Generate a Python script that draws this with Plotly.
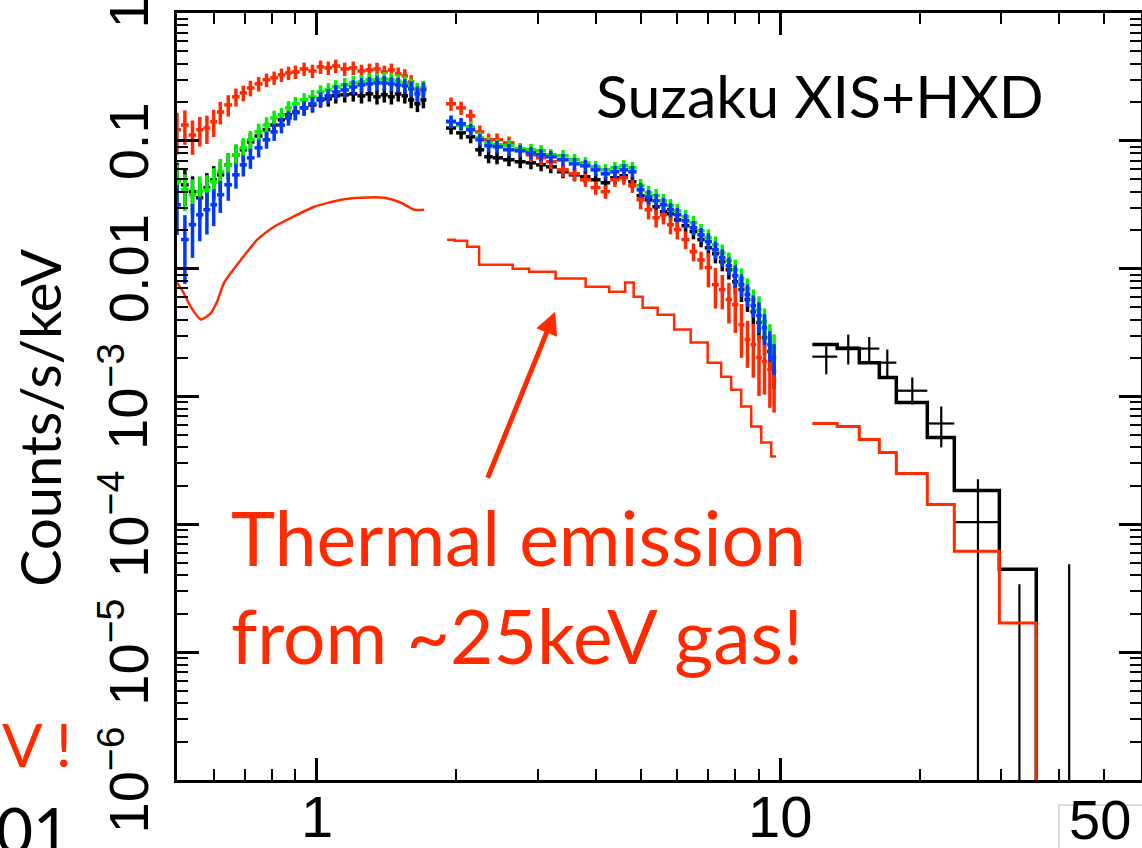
import numpy as np
import plotly.graph_objects as go

# ---------------- data (keV, counts/s/keV) ----------------
# XIS soft band
e_soft = [0.50, 0.52, 0.54, 0.56, 0.58, 0.60, 0.62, 0.645, 0.67, 0.695, 0.72, 0.75, 0.78, 0.81, 0.84, 0.87, 0.90,
          0.94, 0.98, 1.02, 1.06, 1.10, 1.15, 1.20, 1.25, 1.30, 1.35, 1.40, 1.45, 1.50, 1.55, 1.60, 1.65, 1.70]
black_soft = [0.0496, 0.0453, 0.0400, 0.0359, 0.0430, 0.0496, 0.0542, 0.0649, 0.0778, 0.0851, 0.0982, 0.109, 0.122,
              0.133, 0.146, 0.160, 0.168, 0.181, 0.191, 0.209, 0.213, 0.225, 0.229, 0.233, 0.225, 0.233, 0.221, 0.229,
              0.221, 0.233, 0.225, 0.209, 0.195, 0.209]
red_soft = [0.122, 0.133, 0.111, 0.122, 0.126, 0.141, 0.168, 0.191, 0.221, 0.237, 0.259, 0.279, 0.300, 0.311, 0.328,
            0.340, 0.346, 0.365, 0.352, 0.379, 0.372, 0.385, 0.365, 0.372, 0.352, 0.359, 0.365, 0.346, 0.359, 0.334,
            0.322, 0.289, 0.250, 0.259]
green_soft = [0.0478, 0.0414, 0.0379, 0.0400, 0.0414, 0.0478, 0.0573, 0.0649, 0.0778, 0.0882, 0.102, 0.1175, 0.133,
              0.151, 0.160, 0.181, 0.195, 0.209, 0.221, 0.241, 0.250, 0.264, 0.274, 0.284, 0.289, 0.300, 0.300, 0.305,
              0.300, 0.294, 0.284, 0.269, 0.250, 0.259]
blue_soft = [0.0316, 0.0169, 0.0221, 0.0264, 0.0289, 0.0316, 0.0379, 0.0453, 0.0542, 0.0649, 0.0736, 0.0882, 0.102,
             0.1175, 0.133, 0.151, 0.166, 0.181, 0.195, 0.213, 0.225, 0.241, 0.250, 0.264, 0.274, 0.279, 0.284, 0.284,
             0.279, 0.274, 0.269, 0.255, 0.233, 0.250]
# relative 1-sigma errors
red_soft_err = [0.36, 0.30, 0.30, 0.26, 0.25, 0.24, 0.20, 0.19, 0.16, 0.14, 0.14, 0.13, 0.12, 0.12, 0.12, 0.12, 0.12,
                0.12, 0.12, 0.12, 0.12, 0.12, 0.12, 0.12, 0.12, 0.12, 0.12, 0.12, 0.12, 0.12, 0.13, 0.13, 0.13, 0.13]
bg_soft_err = [0.36, 0.32, 0.32, 0.32, 0.30, 0.28, 0.26, 0.23, 0.20, 0.19, 0.17, 0.16, 0.15, 0.14, 0.13, 0.13, 0.13,
               0.13, 0.13, 0.13, 0.13, 0.13, 0.13, 0.13, 0.13, 0.13, 0.13, 0.13, 0.13, 0.13, 0.13, 0.14, 0.14, 0.14]
blue_soft_err = [0.42, 0.55, 0.45, 0.38, 0.36, 0.32, 0.28, 0.25, 0.22, 0.19, 0.18, 0.16, 0.15, 0.15, 0.14, 0.13, 0.13,
                 0.13, 0.13, 0.13, 0.13, 0.13, 0.13, 0.13, 0.13, 0.13, 0.13, 0.13, 0.13, 0.13, 0.13, 0.14, 0.14, 0.14]

# XIS hard band
e_hard = [1.95, 2.05, 2.15, 2.25, 2.35, 2.45, 2.6, 2.75, 2.9, 3.05, 3.2, 3.4, 3.6, 3.8, 4.0, 4.2, 4.4, 4.6, 4.8, 5.0,
          5.2, 5.4, 5.6, 5.8, 6.0, 6.25, 6.5, 6.75, 7.0, 7.25, 7.5, 7.75, 8.0, 8.25, 8.5, 8.75, 9.0, 9.25, 9.5, 9.7]
black_hard = [0.126, 0.1155, 0.1075, 0.0851, 0.075, 0.0736, 0.0711, 0.0686, 0.0673, 0.0649, 0.0626, 0.0573, 0.0542,
              0.0523, 0.0496, 0.047, 0.0514, 0.0533, 0.0478, 0.0372, 0.0346, 0.0305, 0.0279, 0.0269, 0.0241, 0.0217,
              0.0195, 0.0169, 0.0146, 0.0131, 0.01134, 0.0098, 0.0079, 0.00686, 0.00573, 0.00461, 0.00379, 0.00289,
              0.00225, 0.00157]
red_hard = [0.195, 0.181, 0.157, 0.1175, 0.102, 0.102, 0.0965, 0.0851, 0.0778, 0.0736, 0.0686, 0.0593, 0.0552, 0.0496,
            0.043, 0.040, 0.0496, 0.0514, 0.0445, 0.0346, 0.0289, 0.025, 0.0264, 0.0221, 0.0202, 0.0169, 0.0136,
            0.0117, 0.0102, 0.0075, 0.00686, 0.00573, 0.00523, 0.00365, 0.00279, 0.00255, 0.00202, 0.00188, 0.00163,
            0.00136]
green_hard = [0.143, 0.133, 0.1286, 0.1055, 0.0965, 0.0931, 0.0914, 0.0866, 0.0851, 0.0835, 0.0778, 0.0763, 0.0711,
              0.0673, 0.0626, 0.0593, 0.0615, 0.0638, 0.0615, 0.0445, 0.0392, 0.0372, 0.0340, 0.0311, 0.0284, 0.0255,
              0.0229, 0.0198, 0.0175, 0.0154, 0.0133, 0.01155, 0.0098, 0.00836, 0.00698, 0.00573, 0.00478, 0.00385,
              0.00289, 0.00241]
blue_hard = [0.141, 0.136, 0.122, 0.102, 0.0914, 0.0898, 0.0851, 0.0835, 0.0806, 0.0778, 0.0750, 0.0711, 0.0661,
             0.0638, 0.0593, 0.0552, 0.0573, 0.0593, 0.0573, 0.0414, 0.0365, 0.0340, 0.0316, 0.0289, 0.0264, 0.0237,
             0.0209, 0.0184, 0.0163, 0.0141, 0.0122, 0.01055, 0.00882, 0.0075, 0.00627, 0.00514, 0.0043, 0.00346,
             0.00255, 0.00202]
bgb_hard_err = [0.11, 0.11, 0.11, 0.11, 0.11, 0.11, 0.11, 0.11, 0.11, 0.11, 0.11, 0.11, 0.11, 0.11, 0.11, 0.11, 0.11,
                0.11, 0.11, 0.13, 0.13, 0.13, 0.13, 0.13, 0.13, 0.13, 0.13, 0.13, 0.16, 0.16, 0.16, 0.16, 0.20, 0.20,
                0.20, 0.20, 0.27, 0.27, 0.27, 0.27]
red_hard_err = [0.12, 0.12, 0.12, 0.12, 0.12, 0.12, 0.12, 0.12, 0.12, 0.12, 0.12, 0.12, 0.12, 0.12, 0.12, 0.12, 0.12,
                0.12, 0.12, 0.16, 0.16, 0.16, 0.16, 0.16, 0.16, 0.16, 0.16, 0.16, 0.30, 0.35, 0.30, 0.35, 0.40, 0.45,
                0.40, 0.45, 0.50, 0.45, 0.50, 0.45]

# thermal (red) model in the XIS range
mod_soft_e = [0.50, 0.515, 0.535, 0.563, 0.59, 0.61, 0.632, 0.687, 0.745, 0.810, 0.881, 0.989, 1.13, 1.247, 1.398,
              1.522, 1.623, 1.706]
mod_soft_v = [0.00778, 0.00661, 0.00505, 0.0040, 0.00445, 0.00552, 0.00778, 0.01175, 0.01686, 0.0213, 0.025, 0.0305,
              0.0346, 0.0359, 0.0359, 0.0328, 0.0289, 0.0289]
mod_hard_e = [1.912, 2.061, 2.165, 2.321, 2.564, 2.735, 3.020, 3.557, 4.07, 4.494, 4.77, 4.89, 5.216, 5.675, 6.146,
              6.688, 7.275, 7.646, 8.035, 8.445, 8.877, 9.328, 9.80]
mod_hard_v = [0.01686, 0.01655, 0.01486, 0.01075, 0.01075, 0.0100, 0.00948, 0.00836, 0.00723, 0.00661, 0.00778,
              0.00604, 0.00495, 0.00437, 0.00334, 0.00264, 0.00184, 0.00143, 0.00113, 0.000835, 0.000583, 0.000437,
              0.00034]

# HXD
hxd_e = [12.57, 14.02, 15.56, 17.02, 19.27, 22.25, 26.7, 32.8, 42.0]
hxd_elo = [11.73, 13.27, 14.81, 16.36, 17.80, 20.76, 23.74, 29.69, 35.67]
hxd_ehi = [13.27, 14.81, 16.36, 17.80, 20.76, 23.74, 29.69, 35.67, 49.5]
hxd_val = [0.00205, 0.00241, 0.00237, 0.00184, 0.00111, 0.000615, 0.000104, None, None]
hxd_yhi = [0.00255, 0.00305, 0.00292, 0.00233, 0.00141, 0.000835, 0.000225, 3.4e-5, 4.87e-5]
hxd_ylo = [0.00149, 0.00178, 0.00184, 0.00143, 0.000866, 0.0004, 0.0, 0.0, 0.0]
hxd_edges = [11.73, 13.27, 14.81, 16.36, 17.80, 20.76, 23.74, 29.69, 35.67]
hxd_model_total = [0.00255, 0.00237, 0.00184, 0.00141, 0.000898, 0.000478, 0.000184, 4.45e-5]
hxd_model_thermal = [0.000615, 0.000583, 0.000461, 0.000365, 0.00025, 0.000143, 6.15e-5, 1.69e-5]

# arrow (tail -> head), keV / counts
arrow_tail = [2.333, 0.000225]
arrow_head = [3.27, 0.00461]

x_ticks = [1, 10]
x_ticktext = ["1", "10"]
x_extra_tick = 50
y_ticks = [1e-6, 1e-5, 1e-4, 1e-3, 1e-2, 1e-1, 1]
y_ticktext = ["10<sup>\u22126</sup>", "10<sup>\u22125</sup>", "10<sup>\u22124</sup>", "10<sup>\u22123</sup>",
              "0.01", "0.1", "1"]

# ---------------- styles ----------------
BLACK = "#000000"
RED = "#ff2a00"
GREEN = "#00f000"
BLUE = "#0038ff"
FLOOR = 10 ** -6.6  # below the axis floor, for limits extending off-scale
TICKFONT = "Liberation Sans Narrow, Liberation Sans, Arial Narrow, sans-serif"
TEXTFONT = "Lato, Open Sans, sans-serif"

fig = go.Figure()


def add_xis(e, v, rel, color):
    e = np.asarray(e, float)
    v = np.asarray(v, float)
    rel = np.asarray(rel, float)
    mids = np.sqrt(e[1:] * e[:-1])
    lo = np.concatenate([[e[0] ** 2 / mids[0]], mids])
    hi = np.concatenate([mids, [e[-1] ** 2 / mids[-1]]])
    fig.add_trace(go.Scatter(
        x=e, y=v, mode="markers", marker=dict(size=1, color=color),
        error_x=dict(type="data", symmetric=False, array=hi - e, arrayminus=e - lo,
                     color=color, thickness=3.5, width=0),
        error_y=dict(type="data", array=v * rel, color=color, thickness=3.5, width=0),
        showlegend=False, hoverinfo="skip"))


for e, series in [(e_soft, [(black_soft, bg_soft_err, BLACK), (red_soft, red_soft_err, RED),
                            (green_soft, bg_soft_err, GREEN), (blue_soft, blue_soft_err, BLUE)]),
                  (e_hard, [(black_hard, bgb_hard_err, BLACK), (red_hard, red_hard_err, RED),
                            (green_hard, bgb_hard_err, GREEN), (blue_hard, bgb_hard_err, BLUE)])]:
    for v, rel, c in series:
        add_xis(e, v, rel, c)

# thermal model curves in XIS band
fig.add_trace(go.Scatter(x=mod_soft_e, y=mod_soft_v, mode="lines",
                         line=dict(color=RED, width=2.5, shape="spline", smoothing=0.6),
                         showlegend=False, hoverinfo="skip"))
fig.add_trace(go.Scatter(x=mod_hard_e, y=mod_hard_v, mode="lines", line=dict(color=RED, width=2.5, shape="hvh"),
                         showlegend=False, hoverinfo="skip"))

# HXD data crosses
cx, cy = [], []
for e, elo, ehi, val, yhi, ylo in zip(hxd_e, hxd_elo, hxd_ehi, hxd_val, hxd_yhi, hxd_ylo):
    if val is not None:
        cx += [elo, ehi, None]
        cy += [val, val, None]
    cx += [e, e, None]
    cy += [yhi, ylo if ylo > 0 else FLOOR, None]
fig.add_trace(go.Scatter(x=cx, y=cy, mode="lines", line=dict(color=BLACK, width=2.2), connectgaps=False,
                         showlegend=False, hoverinfo="skip"))


def step_xy(edges, vals):
    return list(edges) + [edges[-1]], list(vals) + [vals[-1], FLOOR]


sx, sy = step_xy(hxd_edges, hxd_model_total)
fig.add_trace(go.Scatter(x=sx, y=sy, mode="lines", line=dict(color=BLACK, width=3.5, shape="hv"),
                         showlegend=False, hoverinfo="skip"))
sx, sy = step_xy(hxd_edges, hxd_model_thermal)
fig.add_trace(go.Scatter(x=sx, y=sy, mode="lines", line=dict(color=RED, width=3, shape="hv"),
                         showlegend=False, hoverinfo="skip"))

# ---------------- annotations ----------------
ann = []
# tick labels drawn as annotations (for exact placement)
for v, t in zip(x_ticks, x_ticktext):
    ann.append(dict(x=np.log10(v), y=-0.047, xref="x", yref="paper", xanchor="center", yanchor="middle",
                    text=t, showarrow=False, font=dict(family=TICKFONT, size=58, color=BLACK)))
ann.append(dict(x=np.log10(x_extra_tick), y=-0.052, xref="x", yref="paper", xanchor="center", yanchor="middle",
                xshift=-4, text=str(x_extra_tick), showarrow=False, font=dict(family=TICKFONT, size=56, color=BLACK)))
for v, t in zip(y_ticks, y_ticktext):
    ann.append(dict(x=-0.0156, y=np.log10(v), xref="paper", yref="y", xanchor="right", yanchor="middle",
                    text=t, textangle=-90, showarrow=False, font=dict(family=TICKFONT, size=56, color=BLACK)))

ann.append(dict(x=np.log10(arrow_head[0]), y=np.log10(arrow_head[1]), xref="x", yref="y",
                ax=np.log10(arrow_tail[0]), ay=np.log10(arrow_tail[1]), axref="x", ayref="y",
                text="", showarrow=True, arrowhead=2, arrowsize=0.9, arrowwidth=5, arrowcolor=RED, standoff=0))
ann.append(dict(x=0.6667, y=0.8925, xref="paper", yref="paper", xanchor="center", yanchor="middle",
                text="Suzaku XIS+HXD", showarrow=False, font=dict(family=TEXTFONT, size=59, color=BLACK)))
ann.append(dict(x=0.054, y=0.378, xref="paper", yref="paper", xanchor="left", yanchor="top", align="left",
                text="Thermal emission<br>from ~25keV gas!", showarrow=False,
                font=dict(family=TEXTFONT, size=75, color=RED)))
ann.append(dict(x=-0.1423, y=0.472, xref="paper", yref="paper", xanchor="center", yanchor="middle",
                text="Counts/s/keV", textangle=-90, showarrow=False, font=dict(family=TEXTFONT, size=56, color=BLACK)))
ann.append(dict(x=-0.1838, y=0.0465, xref="paper", yref="paper", xanchor="left", yanchor="middle",
                text="V !", showarrow=False, font=dict(family=TEXTFONT, size=60, color=RED)))
ann.append(dict(x=-0.19, y=-0.012, xref="paper", yref="paper", xanchor="left", yanchor="top",
                text="01", showarrow=False, font=dict(family=TEXTFONT, size=64, color=BLACK)))

shapes = [dict(type="rect", xref="paper", yref="paper", x0=0.9149, x1=1.02, y0=-0.0326, y1=-0.15,
               line=dict(color="#d0d0d0", width=1.5), fillcolor="rgba(0,0,0,0)", layer="below")]

axis_common = dict(type="log", showline=True, linecolor=BLACK, linewidth=3, mirror="allticks", automargin=False,
                   ticks="inside", ticklen=22, tickwidth=3, tickcolor=BLACK, showgrid=False, zeroline=False,
                   showticklabels=False,
                   minor=dict(ticks="inside", ticklen=11, tickwidth=2, tickcolor=BLACK, dtick="D1", showgrid=False))

fig.update_layout(
    width=1142, height=848,
    margin=dict(l=177, r=1, t=13, b=68),
    paper_bgcolor="white", plot_bgcolor="white",
    xaxis=dict(range=[np.log10(0.5), np.log10(60)], tickvals=x_ticks, **axis_common),
    yaxis=dict(range=[-6, 0], tickvals=y_ticks, **axis_common),
    annotations=ann, shapes=shapes, showlegend=False,
)

fig.write_html("out.html")
